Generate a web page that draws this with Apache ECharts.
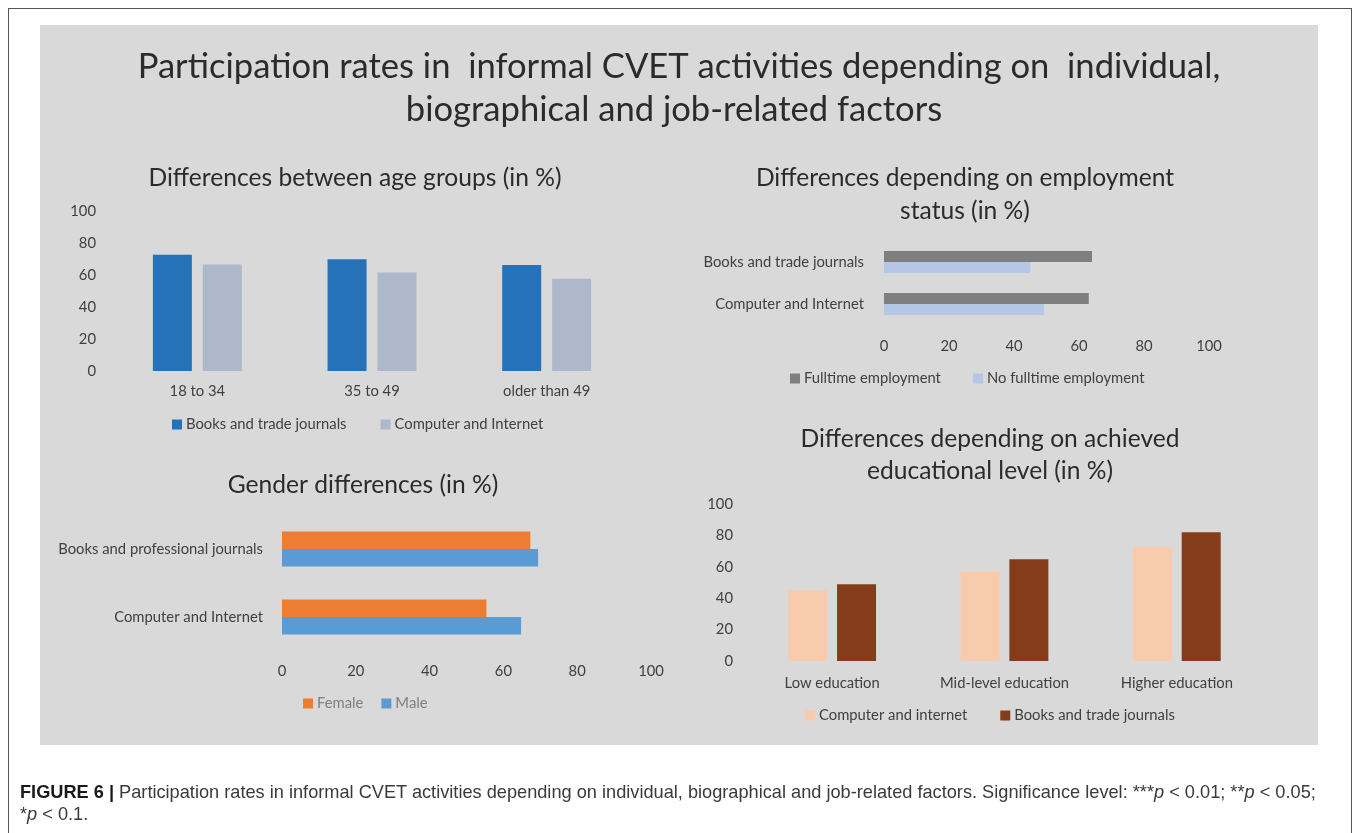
<!DOCTYPE html>
<html>
<head>
<meta charset="utf-8">
<script src="https://cdn.jsdelivr.net/npm/echarts@6/dist/echarts.min.js"></script>
<style>
  html, body { margin: 0; padding: 0; background: #ffffff; width: 1357px; height: 833px; overflow: hidden; }
  #frame { position: absolute; left: 8px; top: 8px; width: 1344px; height: 900px; border: 1.5px solid #555; box-sizing: border-box; }
  #panel { position: absolute; left: 40px; top: 25px; width: 1278px; height: 720px; background: #d9d9d9; }
  #chart { position: absolute; left: 0; top: 0; width: 1357px; height: 833px; }
  #caption { position: absolute; left: 20px; top: 781px; font-family: "Liberation Sans", Arial, sans-serif; font-size: 18.2px; line-height: 22px; color: #3a3a3a; white-space: nowrap; }
  #caption b { color: #1a1a1a; }
</style>
</head>
<body>
<div id="frame"></div>
<div id="panel"></div>
<div id="chart"></div>
<div id="caption"><b>FIGURE 6 |</b> Participation rates in informal CVET activities depending on individual, biographical and job-related factors. Significance level: ***<i>p</i> &lt; 0.01; **<i>p</i> &lt; 0.05;<br>*<i>p</i> &lt; 0.1.</div>
<script>
// ---- Data ----
const mainTitle = ["Participation rates in  informal CVET activities depending on  individual,", "biographical and job-related factors"];

const ageTitle = "Differences between age groups (in %)";
const ageCategories = ["18 to 34", "35 to 49", "older than 49"];
const ageBooks = [72.6, 69.9, 66.3];
const ageComputer = [66.5, 61.5, 57.7];

const empTitle = ["Differences depending on employment", "status (in %)"];
const empCategories = ["Books and trade journals", "Computer and Internet"];
const empFulltime = [64.0, 63.0];
const empNoFulltime = [45.0, 49.2];

const genderTitle = "Gender differences (in %)";
const genderCategories = ["Books and professional journals", "Computer and Internet"];
const genderFemale = [67.3, 55.4];
const genderMale = [69.4, 64.8];

const eduTitle = ["Differences depending on achieved", "educational level (in %)"];
const eduCategories = ["Low education", "Mid-level education", "Higher education"];
const eduComputer = [45.1, 57.2, 72.7];
const eduBooks = [48.9, 64.8, 82.0];

const valueTicks = [0, 20, 40, 60, 80, 100];

// ---- Styles ----
const FONT = "Lato";
const TXT = "#404040";
const TITLE = "#2b2b2b";
const SMALL = 14.8;
const C = {
  books: "#2672b8", computer: "#adb9cb",
  full: "#7f7f7f", nofull: "#b4c7e7",
  female: "#ed7d31", male: "#5b9bd5",
  eduComp: "#f8cbad", eduBooks: "#843c1a"
};

const chart = echarts.init(document.getElementById('chart'), null, { renderer: 'canvas' });

function txt(text, x, y, size) {
  return { type: 'text', x: x, y: y, style: { text: text, fill: TITLE, font: size + 'px ' + FONT, textAlign: 'center', textVerticalAlign: 'middle' } };
}

const valAxisBase = {
  type: 'value', min: valueTicks[0], max: valueTicks[valueTicks.length - 1], interval: valueTicks[1] - valueTicks[0],
  axisLine: { show: false }, axisTick: { show: false }, splitLine: { show: false },
  axisLabel: { color: TXT, fontFamily: FONT, fontSize: SMALL }
};
const catAxisBase = {
  type: 'category',
  axisLine: { show: false }, axisTick: { show: false }, splitLine: { show: false },
  axisLabel: { color: TXT, fontFamily: FONT, fontSize: SMALL }
};

function legend(items, left, top, textColor, gap) {
  return {
    left: left, top: top, padding: 0, itemWidth: 10, itemHeight: 10, itemGap: gap, selectedMode: false,
    icon: 'rect',
    textStyle: { color: textColor, fontFamily: FONT, fontSize: SMALL, padding: [0, 0, 0, -1] },
    data: items.map(it => ({ name: it[0], itemStyle: { color: it[1] } }))
  };
}

const option = {
  animation: false,
  graphic: [
    txt(mainTitle[0], 679, 67, 34.6),
    txt(mainTitle[1], 674, 110, 34.6),
    txt(ageTitle, 355, 178, 24.6),
    txt(empTitle[0], 965, 178, 24.6),
    txt(empTitle[1], 965, 211, 24.6),
    txt(genderTitle, 363, 485, 24.6),
    txt(eduTitle[0], 990, 439, 24.6),
    txt(eduTitle[1], 990, 471, 24.6)
  ],
  grid: [
    { left: 110, top: 211, width: 524, height: 160 },
    { left: 884, top: 241, width: 325, height: 84 },
    { left: 282, top: 515, width: 369, height: 136 },
    { left: 746, top: 504, width: 517, height: 157 }
  ],
  xAxis: [
    Object.assign({}, catAxisBase, { gridIndex: 0, data: ageCategories, axisLabel: Object.assign({}, catAxisBase.axisLabel, { margin: 13 }) }),
    Object.assign({}, valAxisBase, { gridIndex: 1, axisLabel: Object.assign({}, valAxisBase.axisLabel, { margin: 14 }) }),
    Object.assign({}, valAxisBase, { gridIndex: 2, axisLabel: Object.assign({}, valAxisBase.axisLabel, { margin: 13 }) }),
    Object.assign({}, catAxisBase, { gridIndex: 3, data: eduCategories, axisLabel: Object.assign({}, catAxisBase.axisLabel, { margin: 15 }) })
  ],
  yAxis: [
    Object.assign({}, valAxisBase, { gridIndex: 0, axisLabel: Object.assign({}, valAxisBase.axisLabel, { margin: 14 }) }),
    Object.assign({}, catAxisBase, { gridIndex: 1, data: empCategories, inverse: true, axisLabel: Object.assign({}, catAxisBase.axisLabel, { margin: 20 }) }),
    Object.assign({}, catAxisBase, { gridIndex: 2, data: genderCategories, inverse: true, axisLabel: Object.assign({}, catAxisBase.axisLabel, { margin: 19 }) }),
    Object.assign({}, valAxisBase, { gridIndex: 3, axisLabel: Object.assign({}, valAxisBase.axisLabel, { margin: 13 }) })
  ],
  legend: [
    legend([["Books and trade journals", C.books], ["Computer and Internet", C.computer]], 172, 417, TXT, 34),
    legend([["Fulltime employment", C.full], ["No fulltime employment", C.nofull]], 790, 371, TXT, 32),
    legend([["Female", C.female], ["Male", C.male]], 303, 696, "#7f7f7f", 18),
    legend([["Computer and internet", C.eduComp], ["Books and trade journals ", C.eduBooks]], 805, 708, TXT, 33)
  ],
  series: [
    { type: 'bar', name: 'Books and trade journals', xAxisIndex: 0, yAxisIndex: 0, data: ageBooks, barWidth: 39, barGap: '28%', itemStyle: { color: C.books } },
    { type: 'bar', name: 'Computer and Internet', xAxisIndex: 0, yAxisIndex: 0, data: ageComputer, barWidth: 39, barGap: '28%', itemStyle: { color: C.computer } },

    { type: 'bar', name: 'Fulltime employment', xAxisIndex: 1, yAxisIndex: 1, data: empFulltime, barWidth: 11, barGap: '0%', itemStyle: { color: C.full } },
    { type: 'bar', name: 'No fulltime employment', xAxisIndex: 1, yAxisIndex: 1, data: empNoFulltime, barWidth: 11, barGap: '0%', itemStyle: { color: C.nofull } },

    { type: 'bar', name: 'Female', xAxisIndex: 2, yAxisIndex: 2, data: genderFemale, barWidth: 17.5, barGap: '0%', itemStyle: { color: C.female } },
    { type: 'bar', name: 'Male', xAxisIndex: 2, yAxisIndex: 2, data: genderMale, barWidth: 17.5, barGap: '0%', itemStyle: { color: C.male } },

    { type: 'bar', name: 'Computer and internet', xAxisIndex: 3, yAxisIndex: 3, data: eduComputer, barWidth: 39, barGap: '25%', itemStyle: { color: C.eduComp } },
    { type: 'bar', name: 'Books and trade journals ', xAxisIndex: 3, yAxisIndex: 3, data: eduBooks, barWidth: 39, barGap: '25%', itemStyle: { color: C.eduBooks } }
  ]
};
chart.setOption(option);
</script>
</body>
</html>
